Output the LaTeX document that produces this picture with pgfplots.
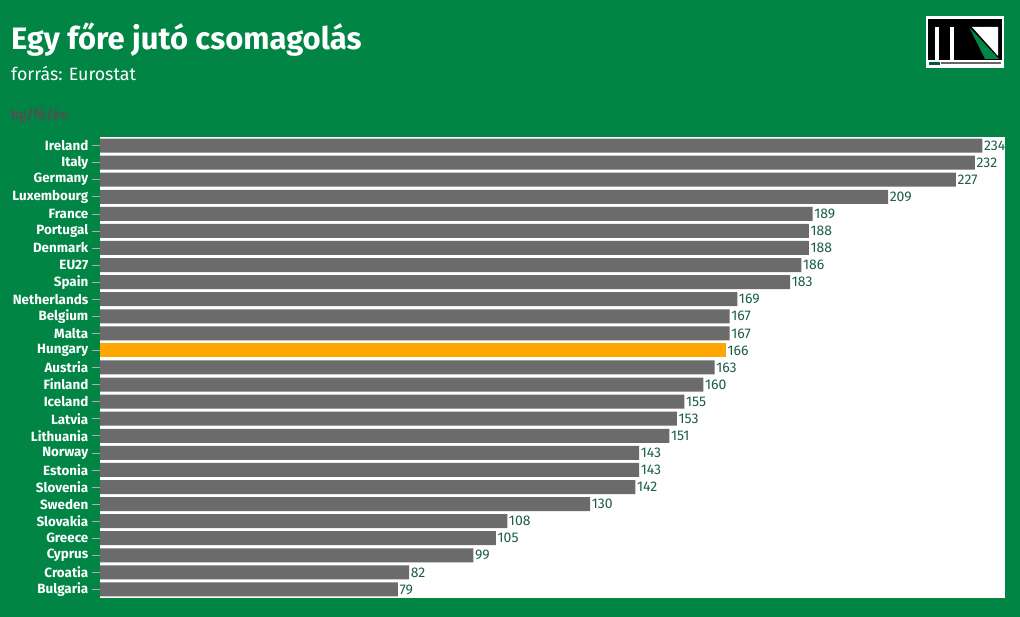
\documentclass[border=0pt]{standalone}
\usepackage{pgfplots}
\pgfplotsset{compat=1.18}
\usepackage{fontspec}
\setmainfont{Fira Sans}
\definecolor{bggreen}{RGB}{0,133,69}
\definecolor{bargray}{RGB}{107,107,107}
\definecolor{hunorange}{RGB}{255,166,0}
\definecolor{valgreen}{RGB}{28,94,74}
\definecolor{unitgray}{RGB}{80,80,80}
\begin{document}
\begin{tikzpicture}[x=1pt,y=1pt]
\fill[bggreen] (0,0) rectangle (1020,617);
\path[use as bounding box] (0,0) rectangle (1020,617);
% title
\node[anchor=base west, inner sep=0, text=white, font=\bfseries\fontsize{31}{31}\selectfont] at (11,617-50) {Egy főre jutó csomagolás};
\node[anchor=base west, inner sep=0, text=white, font=\fontsize{17.8}{17.8}\selectfont] at (11,617-81) {forrás: Eurostat};
\node[anchor=base west, inner sep=0, text=unitgray, font=\bfseries\fontsize{14}{14}\selectfont] at (11,617-120) {kg/fő/év};
% logo
\fill[white] (926,617-16) rectangle (1004,617-68);
\fill[black] (928,617-19) rectangle (1002,617-60);
\fill[white] (935,617-27) rectangle (939,617-60);
\fill[white] (950,617-27) rectangle (954,617-60);
\fill[white] (972,617-27) -- (998,617-27) -- (998,617-56) -- cycle;
\fill[bggreen] (969,617-27) -- (999,617-59) -- (985,617-59) -- cycle;
\fill[bggreen!70!black] (929,617-62) rectangle (940,617-65);
\fill[black!60] (941,617-62.5) rectangle (1001,617-64.5);
\begin{axis}[
  at={(100pt,19pt)}, anchor=south west,
  scale only axis, width=905pt, height=461pt,
  xbar, bar width=0.82, bar shift=0pt,
  xmin=0, xmax=240, ymin=-0.5, ymax=26.5, y dir=reverse,
  axis background/.style={fill=white},
  axis line style={draw=none},
  xtick=\empty,
  ytick={0,...,26}, ytick pos=left,
  yticklabels={Ireland,Italy,Germany,Luxembourg,France,Portugal,Denmark,EU27,Spain,Netherlands,Belgium,Malta,Hungary,Austria,Finland,Iceland,Latvia,Lithuania,Norway,Estonia,Slovenia,Sweden,Slovakia,Greece,Cyprus,Croatia,Bulgaria},
  tick style={draw=black!30, line width=0.6pt},
  major tick length=8pt, tick align=outside,
  yticklabel style={font=\bfseries\fontsize{13.4}{13.4}\selectfont, text=white, inner sep=3.5pt},
  /pgf/number format/assume math mode=true,
  nodes near coords,
  nodes near coords style={font=\fontsize{14}{14}\selectfont, text=valgreen, anchor=west, inner sep=1.5pt},
]
\addplot[fill=bargray, draw=none] coordinates {
 (234,0) (232,1) (227,2) (209,3) (189,4) (188,5) (188,6) (186,7) (183,8)
 (169,9) (167,10) (167,11) (163,13) (160,14) (155,15) (153,16)
 (151,17) (143,18) (143,19) (142,20) (130,21) (108,22) (105,23) (99,24)
 (82,25) (79,26)};
\addplot[fill=hunorange, draw=none] coordinates {(166,12)};
\end{axis}
\end{tikzpicture}
\end{document}
